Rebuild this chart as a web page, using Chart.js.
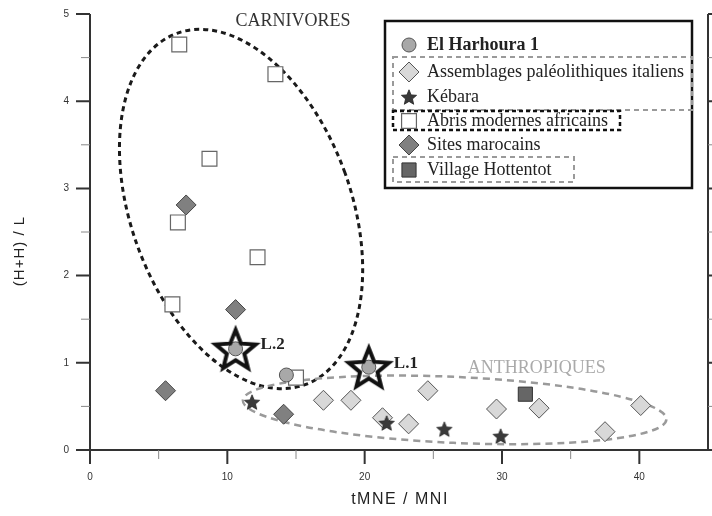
<!DOCTYPE html>
<html>
<head>
<meta charset="utf-8">
<script src="https://cdn.jsdelivr.net/npm/chart.js@4.4.1/dist/chart.umd.min.js"></script>
<style>
  html, body { margin: 0; padding: 0; background: #fff; }
</style>
</head>
<body>
<canvas id="chart" width="712" height="516"></canvas>
<script>
// El Harhoura 1 levels
var harhouraX = [10.6, 14.3, 20.3];
var harhouraY = [1.16, 0.86, 0.95];
var harhouraLabels = ['L.2', '', 'L.1'];

// Assemblages paleolithiques italiens
var italiensX = [17.0, 19.0, 21.3, 23.2, 24.6, 29.6, 32.7, 37.5, 40.1];
var italiensY = [0.57, 0.57, 0.37, 0.30, 0.68, 0.47, 0.48, 0.21, 0.51];

// Kebara
var kebaraX = [11.8, 21.6, 25.8, 29.9];
var kebaraY = [0.55, 0.31, 0.24, 0.16];

// Abris modernes africains
var abrisX = [6.5, 13.5, 8.7, 6.4, 12.2, 6.0, 15.0];
var abrisY = [4.65, 4.31, 3.34, 2.61, 2.21, 1.67, 0.83];

// Sites marocains
var marocainsX = [7.0, 10.6, 5.5, 14.1];
var marocainsY = [2.81, 1.61, 0.68, 0.41];

// Village Hottentot
var hottentotX = [31.7];
var hottentotY = [0.64];

var xTicks = [0, 10, 20, 30, 40];
var xMinorTicks = [5, 15, 25, 35];
var yTicks = [0, 1, 2, 3, 4, 5];
var yMinorTicks = [0.5, 1.5, 2.5, 3.5, 4.5];

function toPoints(xs, ys) {
  var pts = [];
  for (var i = 0; i < xs.length; i++) {
    pts.push({ x: xs[i], y: ys[i] });
  }
  return pts;
}

function starPath(g, cx, cy, R, r) {
  g.beginPath();
  for (var i = 0; i < 10; i++) {
    var rad = i % 2 ? r : R;
    var a = -Math.PI / 2 + i * Math.PI / 5;
    g.lineTo(cx + rad * Math.cos(a), cy + rad * Math.sin(a));
  }
  g.closePath();
}

function starCanvas(R, r, fill, stroke, lw) {
  var size = Math.ceil(R * 2 + lw * 2 + 4);
  var c = document.createElement('canvas');
  c.width = size;
  c.height = size;
  var g = c.getContext('2d');
  g.lineJoin = 'miter';
  starPath(g, size / 2, size / 2 + R * 0.1, R, r);
  if (fill) { g.fillStyle = fill; g.fill(); }
  if (stroke) { g.strokeStyle = stroke; g.lineWidth = lw; g.stroke(); }
  return c;
}

var kebaraStar = starCanvas(8, 3.6, '#3a3a3a', '#222', 0.8);
var bigStar = starCanvas(21, 9.2, null, '#111', 4);

// big open stars around the labelled El Harhoura levels
var starredPoints = [];
for (var i = 0; i < harhouraX.length; i++) {
  if (harhouraLabels[i]) starredPoints.push({ x: harhouraX[i], y: harhouraY[i] });
}

// annotation outlines (centre in data units, radii in px)
var carnivoresShape = { cx: 11.0, cy: 2.764, rx: 110, ry: 187, rot: -0.35 };
var anthropiquesShape = { cx: 26.55, cy: 0.46, rx: 212, ry: 33, rot: 0.045 };

var annotations = {
  id: 'annotations',
  beforeDatasetsDraw: function(chart) {
    var ctx = chart.ctx;
    var xs = chart.scales.x, ys = chart.scales.y;
    ctx.save();

    ctx.setLineDash([5, 4]);
    ctx.lineWidth = 3;
    ctx.strokeStyle = '#1a1a1a';
    ctx.beginPath();
    ctx.ellipse(xs.getPixelForValue(carnivoresShape.cx), ys.getPixelForValue(carnivoresShape.cy),
      carnivoresShape.rx, carnivoresShape.ry, carnivoresShape.rot, 0, Math.PI * 2);
    ctx.stroke();

    ctx.setLineDash([7, 5]);
    ctx.lineWidth = 2.5;
    ctx.strokeStyle = '#9a9a9a';
    ctx.beginPath();
    ctx.ellipse(xs.getPixelForValue(anthropiquesShape.cx), ys.getPixelForValue(anthropiquesShape.cy),
      anthropiquesShape.rx, anthropiquesShape.ry, anthropiquesShape.rot, 0, Math.PI * 2);
    ctx.stroke();
    ctx.setLineDash([]);

    ctx.textBaseline = 'middle';
    ctx.textAlign = 'left';
    ctx.font = '18px "Liberation Serif"';
    ctx.fillStyle = '#333';
    ctx.fillText('CARNIVORES', xs.getPixelForValue(10.6), ys.getPixelForValue(4.92));
    ctx.fillStyle = '#aaa';
    ctx.fillText('ANTHROPIQUES', xs.getPixelForValue(27.5), ys.getPixelForValue(0.94));
    ctx.restore();
  },
  afterDraw: function(chart) {
    var ctx = chart.ctx;
    var xs = chart.scales.x, ys = chart.scales.y;
    var area = chart.chartArea;
    ctx.save();

    // L.1 / L.2 labels next to the starred points
    var meta = chart.getDatasetMeta(1);
    ctx.font = 'bold 17px "Liberation Serif"';
    ctx.fillStyle = '#222';
    ctx.textBaseline = 'middle';
    for (var i = 0; i < harhouraLabels.length; i++) {
      if (!harhouraLabels[i]) continue;
      var el = meta.data[i];
      ctx.fillText(harhouraLabels[i], el.x + 25, el.y - 4);
    }

    // axes with major and minor ticks
    ctx.strokeStyle = '#333';
    ctx.lineWidth = 2;
    ctx.beginPath();
    ctx.moveTo(area.left, area.top);
    ctx.lineTo(area.left, area.bottom);
    ctx.lineTo(area.right, area.bottom);
    ctx.moveTo(area.right, area.top);
    ctx.lineTo(area.right, area.bottom);
    xTicks.forEach(function(v) {
      var px = xs.getPixelForValue(v);
      ctx.moveTo(px, area.bottom); ctx.lineTo(px, area.bottom + 14);
    });
    yTicks.forEach(function(v) {
      var py = ys.getPixelForValue(v);
      ctx.moveTo(area.left, py); ctx.lineTo(area.left - 14, py);
      ctx.moveTo(area.right, py); ctx.lineTo(area.right + 14, py);
    });
    ctx.stroke();
    ctx.lineWidth = 1;
    ctx.strokeStyle = '#888';
    ctx.beginPath();
    xMinorTicks.forEach(function(v) {
      var px = xs.getPixelForValue(v);
      ctx.moveTo(px, area.bottom); ctx.lineTo(px, area.bottom + 9);
    });
    yMinorTicks.forEach(function(v) {
      var py = ys.getPixelForValue(v);
      ctx.moveTo(area.left, py); ctx.lineTo(area.left - 9, py);
      ctx.moveTo(area.right, py); ctx.lineTo(area.right + 9, py);
    });
    ctx.stroke();

    // axis titles
    ctx.fillStyle = '#222';
    ctx.textAlign = 'center';
    ctx.textBaseline = 'middle';
    ctx.font = '16px "Liberation Sans"';
    ctx.letterSpacing = '1.5px';
    ctx.fillText('tMNE / MNI', 400, 500);
    ctx.save();
    ctx.translate(20, 251);
    ctx.rotate(-Math.PI / 2);
    ctx.font = '15px "Liberation Sans"';
    ctx.letterSpacing = '1px';
    ctx.fillText('(H+H) / L', 0, 0);
    ctx.restore();
    ctx.letterSpacing = '0px';

    drawLegend(ctx, chart);
    ctx.restore();
  }
};

function drawMarker(ctx, ds, x, y) {
  ctx.save();
  ctx.fillStyle = ds.backgroundColor;
  ctx.strokeStyle = ds.borderColor;
  ctx.lineWidth = ds.borderWidth;
  var r = ds.pointRadius;
  var st = ds.pointStyle;
  if (st instanceof HTMLCanvasElement) {
    ctx.drawImage(st, x - st.width / 2, y - st.height / 2);
  } else {
    ctx.beginPath();
    if (st === 'circle') {
      ctx.arc(x, y, r, 0, Math.PI * 2);
    } else if (st === 'rectRot') {
      ctx.moveTo(x - r, y); ctx.lineTo(x, y - r); ctx.lineTo(x + r, y); ctx.lineTo(x, y + r);
      ctx.closePath();
    } else {
      var s = r * Math.SQRT1_2;
      ctx.rect(x - s, y - s, s * 2, s * 2);
    }
    ctx.fill();
    ctx.stroke();
  }
  ctx.restore();
}

function drawLegend(ctx, chart) {
  var ds = chart.data.datasets;
  var items = [1, 4, 2, 5, 6, 3];
  var rowsY = [45, 72, 97, 121, 145, 170];

  ctx.fillStyle = '#fff';
  ctx.fillRect(385, 21, 307, 167);
  ctx.strokeStyle = '#111';
  ctx.lineWidth = 2.5;
  ctx.strokeRect(385, 21, 307, 167);

  ctx.lineWidth = 2;
  ctx.setLineDash([5, 4]);
  ctx.strokeStyle = '#9a9a9a';
  ctx.strokeRect(393, 57, 299, 53);
  ctx.strokeRect(393, 157, 181, 25);
  ctx.strokeStyle = '#111';
  ctx.lineWidth = 2.5;
  ctx.setLineDash([4, 3]);
  ctx.strokeRect(393, 111, 227, 19);
  ctx.setLineDash([]);

  ctx.textAlign = 'left';
  ctx.textBaseline = 'middle';
  ctx.fillStyle = '#222';
  for (var i = 0; i < items.length; i++) {
    var d = ds[items[i]];
    drawMarker(ctx, d, 409, rowsY[i]);
    ctx.font = (i === 0 ? 'bold ' : '') + '18px "Liberation Serif"';
    ctx.fillText(d.label, 427, rowsY[i]);
  }
}

new Chart(document.getElementById('chart'), {
  type: 'scatter',
  data: {
    datasets: [
      {
        label: 'L',
        data: starredPoints,
        pointStyle: bigStar,
        pointRadius: 21,
        backgroundColor: 'rgba(0,0,0,0)',
        borderColor: '#111',
        borderWidth: 0
      },
      {
        label: 'El Harhoura 1',
        data: toPoints(harhouraX, harhouraY),
        pointStyle: 'circle',
        pointRadius: 7,
        backgroundColor: '#a8a8a8',
        borderColor: '#555',
        borderWidth: 1
      },
      {
        label: 'Kébara',
        data: toPoints(kebaraX, kebaraY),
        pointStyle: kebaraStar,
        pointRadius: 8,
        backgroundColor: '#3a3a3a',
        borderColor: '#222',
        borderWidth: 1
      },
      {
        label: 'Village Hottentot',
        data: toPoints(hottentotX, hottentotY),
        pointStyle: 'rect',
        pointRadius: 10,
        backgroundColor: '#666',
        borderColor: '#333',
        borderWidth: 1
      },
      {
        label: 'Assemblages paléolithiques italiens',
        data: toPoints(italiensX, italiensY),
        pointStyle: 'rectRot',
        pointRadius: 10,
        backgroundColor: '#d8d8d8',
        borderColor: '#555',
        borderWidth: 1
      },
      {
        label: 'Abris modernes africains',
        data: toPoints(abrisX, abrisY),
        pointStyle: 'rect',
        pointRadius: 10.5,
        backgroundColor: '#fff',
        borderColor: '#666',
        borderWidth: 1.2
      },
      {
        label: 'Sites marocains',
        data: toPoints(marocainsX, marocainsY),
        pointStyle: 'rectRot',
        pointRadius: 10,
        backgroundColor: '#808080',
        borderColor: '#444',
        borderWidth: 1
      }
    ]
  },
  options: {
    responsive: false,
    animation: false,
    clip: false,
    layout: { autoPadding: false, padding: { top: 14, right: 4, left: 0, bottom: 0 } },
    plugins: {
      legend: { display: false },
      tooltip: { enabled: false }
    },
    scales: {
      x: {
        type: 'linear',
        min: 0,
        max: 45,
        afterFit: function(s) { s.height = 66; s.paddingLeft = 0; s.paddingRight = 0; },
        afterBuildTicks: function(s) { s.ticks = xTicks.map(function(v) { return { value: v }; }); },
        grid: { display: false, drawTicks: false },
        border: { display: false },
        ticks: { padding: 21, color: '#333', font: { family: 'Liberation Sans', size: 10 } }
      },
      y: {
        type: 'linear',
        min: 0,
        max: 5,
        afterFit: function(s) { s.width = 90; s.paddingTop = 0; s.paddingBottom = 0; },
        afterBuildTicks: function(s) { s.ticks = yTicks.map(function(v) { return { value: v }; }); },
        grid: { display: false, drawTicks: false },
        border: { display: false },
        ticks: { padding: 21, color: '#333', font: { family: 'Liberation Sans', size: 10 } }
      }
    }
  },
  plugins: [annotations]
});
</script>
</body>
</html>
